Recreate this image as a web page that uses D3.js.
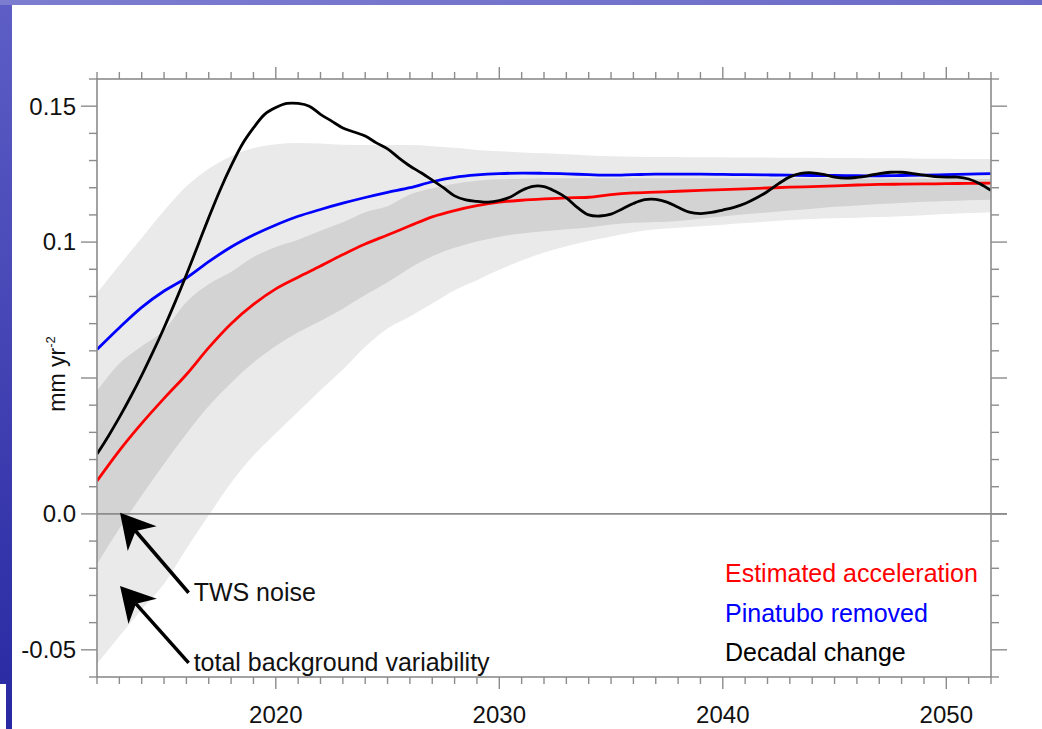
<!DOCTYPE html>
<html lang="en">
<head>
<meta charset="utf-8" />
<title>Acceleration detection</title>
<style>
  body { margin:0; background:#fff; }
  svg  { display:block; font-family:"Liberation Sans", Arial, sans-serif; }
  .frame   { fill:none; stroke:#8c8c8c; stroke-width:1.6px; }
  .tick    { stroke:#8c8c8c; stroke-width:1.4px; }
  .tickLbl { font-size:24px; fill:#111; }
  .note    { font-size:25px; fill:#111; }
  .legend  { font-size:25px; }
</style>
</head>
<body>
<svg width="1042" height="729"></svg>

<script src="https://cdn.jsdelivr.net/npm/d3@7"></script>
<script>
/* ---------- DATA ---------- */
const years = d3.range(2012, 2053);           // yearly grid 2012..2052

// total background variability (light band)
const lightHi = [0.0813,0.0915,0.1015,0.1115,0.1205,0.1270,0.1316,0.1346,0.1360,0.1365,
                 0.1363,0.1358,0.1357,0.1357,0.1357,0.1353,0.1347,0.1339,0.1334,0.1330,
                 0.1327,0.1323,0.1319,0.1316,0.1314,0.1313,0.1313,0.1312,0.1312,0.1311,
                 0.1311,0.1310,0.1310,0.1309,0.1309,0.1308,0.1308,0.1307,0.1307,0.1306,0.1306];
const lightLo = [-0.0551,-0.0450,-0.0352,-0.0257,-0.0128,-0.0005,0.0115,0.0215,0.0297,0.0376,
                 0.0455,0.0531,0.0615,0.0682,0.0726,0.0774,0.0823,0.0860,0.0898,0.0932,
                 0.0962,0.0985,0.1004,0.1021,0.1036,0.1047,0.1053,0.1058,0.1064,0.1070,
                 0.1076,0.1081,0.1085,0.1088,0.1090,0.1092,0.1095,0.1099,0.1103,0.1107,0.1110];

// TWS noise (dark band)
const darkHi  = [0.0452,0.0553,0.0617,0.0676,0.0780,0.0845,0.0890,0.0945,0.0982,0.1009,
                 0.1042,0.1073,0.1110,0.1132,0.1175,0.1198,0.1215,0.1226,0.1231,0.1233,
                 0.1235,0.1235,0.1235,0.1235,0.1235,0.1235,0.1235,0.1235,0.1235,0.1234,
                 0.1234,0.1234,0.1234,0.1234,0.1233,0.1233,0.1233,0.1233,0.1232,0.1232,0.1232];
const darkLo  = [-0.0184,-0.0054,0.0068,0.0184,0.0295,0.0397,0.0482,0.0557,0.0618,0.0668,
                 0.0710,0.0755,0.0805,0.0852,0.0905,0.0948,0.0979,0.1002,0.1020,0.1032,
                 0.1040,0.1047,0.1054,0.1065,0.1071,0.1074,0.1078,0.1086,0.1094,0.1102,
                 0.1109,0.1116,0.1123,0.1130,0.1135,0.1140,0.1144,0.1148,0.1151,0.1154,0.1156];

// Estimated acceleration (red)
const estimated = [0.0121,0.0233,0.0333,0.0425,0.0513,0.0612,0.0700,0.0771,0.0828,0.0871,
                   0.0912,0.0954,0.0993,0.1026,0.1060,0.1093,0.1116,0.1134,0.1147,0.1154,
                   0.1159,0.1163,0.1165,0.1175,0.1181,0.1184,0.1187,0.1190,0.1193,0.1196,
                   0.1199,0.1202,0.1204,0.1207,0.1210,0.1212,0.1213,0.1214,0.1215,0.1216,0.1217];

// Pinatubo removed (blue)
const pinatubo = [0.0605,0.0685,0.0760,0.0820,0.0868,0.0928,0.0982,0.1026,0.1063,0.1095,
                  0.1120,0.1143,0.1164,0.1183,0.1200,0.1222,0.1238,0.1247,0.1252,0.1254,
                  0.1253,0.1251,0.1248,0.1246,0.1248,0.1250,0.1250,0.1250,0.1249,0.1248,
                  0.1247,0.1246,0.1245,0.1245,0.1244,0.1244,0.1245,0.1246,0.1248,0.1250,0.1252];

// Decadal change (black), half-year grid
const decadalYears = d3.range(0, 81).map(i => 2012 + i / 2);
const decadal = [0.0220,0.0285,0.0355,0.0430,0.0510,0.0595,0.0685,0.0780,0.0880,0.0985,
                 0.1090,0.1190,0.1280,0.1360,0.1420,0.1470,0.1495,0.1510,0.1510,0.1500,
                 0.1470,0.1445,0.1420,0.1405,0.1390,0.1365,0.1343,0.1310,0.1280,0.1255,
                 0.1228,0.1200,0.1170,0.1155,0.1150,0.1147,0.1153,0.1166,0.1190,0.1205,
                 0.1204,0.1187,0.1163,0.1127,0.1100,0.1096,0.1103,0.1122,0.1142,0.1156,
                 0.1157,0.1147,0.1128,0.1110,0.1105,0.1109,0.1118,0.1128,0.1142,0.1162,
                 0.1186,0.1215,0.1240,0.1253,0.1255,0.1249,0.1239,0.1235,0.1238,0.1244,
                 0.1252,0.1257,0.1257,0.1252,0.1246,0.1241,0.1239,0.1239,0.1232,0.1215,0.1190];

const seriesNames  = ["Estimated acceleration", "Pinatubo removed", "Decadal change"];
const seriesColors = ["#ff0000", "#0000ff", "#000000"];

const yLabelValues = [0.15, 0.1, 0, -0.05];
const yLabelTexts  = ["0.15", "0.1", "0.0", "-0.05"];
const xLabelValues = [2020, 2030, 2040, 2050];

// annotation arrows: [tipYear, tipVal, tailYear, tailVal, label]
const notes = [
  [2013.03, 0.0004, 2016.1, -0.0290, "TWS noise"],
  [2013.03, -0.0265, 2016.1, -0.0548, "total background variability"]
];

/* ---------- SET-UP ---------- */
const W = 1042, H = 729;
const m = { left:97, right:991, top:79, bottom:677 };
const svg = d3.select("svg");
const defs = svg.append("defs");

// slide border gradients
const gl = defs.append("linearGradient").attr("id","gLeft").attr("x1",0).attr("y1",0).attr("x2",0).attr("y2",1);
gl.append("stop").attr("offset","0%").attr("stop-color","#5e5ec6");
gl.append("stop").attr("offset","100%").attr("stop-color","#2828a2");
const gt = defs.append("linearGradient").attr("id","gTop").attr("x1",0).attr("y1",0).attr("x2",1).attr("y2",0);
gt.append("stop").attr("offset","0%").attr("stop-color","#7c7cd0");
gt.append("stop").attr("offset","100%").attr("stop-color","#6c6cc8");

svg.append("rect").attr("width",W).attr("height",H).attr("fill","#fff");
svg.append("rect").attr("x",0).attr("y",0).attr("width",12).attr("height",H).attr("fill","url(#gLeft)");
svg.append("rect").attr("x",0).attr("y",0).attr("width",W).attr("height",5).attr("fill","url(#gTop)");
svg.append("rect").attr("x",0).attr("y",684).attr("width",6).attr("height",H-684).attr("fill","#fff");

defs.append("clipPath").attr("id","plotClip")
  .append("rect").attr("x",m.left).attr("y",m.top)
  .attr("width",m.right-m.left).attr("height",m.bottom-m.top);

/* ---------- SCALES ---------- */
const x = d3.scaleLinear().domain([2012, 2052]).range([m.left, m.right]);
const y = d3.scaleLinear().domain([-0.06, 0.16]).range([m.bottom, m.top]);

const plot = svg.append("g").attr("clip-path","url(#plotClip)");

// zero line (sits below the bands)
svg.append("line")
  .attr("x1",x(2012)).attr("x2",x(2052)+16)
  .attr("y1",y(0)).attr("y2",y(0))
  .attr("stroke","#8c8c8c").attr("stroke-width",1.6);

/* ---------- BANDS ---------- */
const area = (lo, hi) => d3.area()
  .x((d,i) => x(years[i]))
  .y0((d,i) => y(lo[i]))
  .y1((d,i) => y(hi[i]))
  .curve(d3.curveMonotoneX)(years);

plot.append("path").attr("d", area(lightLo, lightHi)).attr("fill","#eaeaea");
plot.append("path").attr("d", area(darkLo, darkHi)).attr("fill","#d3d3d3");

/* ---------- LINES ---------- */
const line = (xs, ys) => d3.line()
  .x((d,i) => x(xs[i]))
  .y(d => y(d))
  .curve(d3.curveCatmullRom)(ys);

[[years, estimated], [years, pinatubo], [decadalYears, decadal]].forEach(([xs, ys], k) => {
  plot.append("path")
    .attr("d", line(xs, ys))
    .attr("fill","none")
    .attr("stroke", seriesColors[k])
    .attr("stroke-width", 2.8)
    .attr("stroke-linejoin","round");
});

/* ---------- FRAME & TICKS ---------- */
svg.append("rect").attr("class","frame")
  .attr("x",m.left).attr("y",m.top)
  .attr("width",m.right-m.left).attr("height",m.bottom-m.top);

const yTicks = d3.range(-6, 17).map(i => ({ v:i/100, major:i%5===0 }));
const xTicks = years.map(v => ({ v, major:v%10===0 }));

const ticks = svg.append("g");
yTicks.forEach(t => {
  const len = t.major ? 16 : 8;
  ticks.append("line").attr("class","tick")
    .attr("x1",m.left-len).attr("x2",m.left).attr("y1",y(t.v)).attr("y2",y(t.v));
  ticks.append("line").attr("class","tick")
    .attr("x1",m.right).attr("x2",m.right+len).attr("y1",y(t.v)).attr("y2",y(t.v));
});
xTicks.forEach(t => {
  const len = t.major ? 12 : 7;
  ticks.append("line").attr("class","tick")
    .attr("x1",x(t.v)).attr("x2",x(t.v)).attr("y1",m.top-len).attr("y2",m.top);
  ticks.append("line").attr("class","tick")
    .attr("x1",x(t.v)).attr("x2",x(t.v)).attr("y1",m.bottom).attr("y2",m.bottom+len);
});

// tick labels
svg.append("g").selectAll("text")
  .data(yLabelValues)
  .join("text").attr("class","tickLbl")
  .attr("x",76).attr("y",d => y(d)).attr("dy","0.35em")
  .attr("text-anchor","end")
  .text((d,i) => yLabelTexts[i]);

svg.append("g").selectAll("text")
  .data(xLabelValues)
  .join("text").attr("class","tickLbl")
  .attr("x",d => x(d)).attr("y",723)
  .attr("text-anchor","middle")
  .text(d => d);

// y title
const yt = svg.append("text")
  .attr("transform","translate(65,374) rotate(-90)")
  .attr("text-anchor","middle")
  .attr("font-size",23).attr("fill","#111");
yt.append("tspan").text("mm yr");
yt.append("tspan").attr("font-size",13).attr("dy",-10).text("-2");

/* ---------- ANNOTATIONS ---------- */
notes.forEach(([tx, tv, sx, sv, label]) => {
  const x1 = x(sx), y1 = y(sv), x2 = x(tx), y2 = y(tv);
  const a = Math.atan2(y2 - y1, x2 - x1);
  const ux = Math.cos(a), uy = Math.sin(a), px = -uy, py = ux;
  const headLen = 34, half = 19, notch = 24;
  const bx = x2 - ux*notch, by = y2 - uy*notch;
  svg.append("line")
    .attr("x1",x1).attr("y1",y1).attr("x2",bx + ux*2).attr("y2",by + uy*2)
    .attr("stroke","#000").attr("stroke-width",3.5);
  const pts = [
    [x2, y2],
    [x2 - ux*headLen + px*half, y2 - uy*headLen + py*half],
    [bx, by],
    [x2 - ux*headLen - px*half, y2 - uy*headLen - py*half]
  ];
  svg.append("path").attr("d","M" + pts.join("L") + "Z").attr("fill","#000");
  svg.append("text").attr("class","note")
    .attr("x", x1 + 5).attr("y", y1 + 8)
    .text(label);
});

/* ---------- LEGEND ---------- */
svg.append("g").selectAll("text")
  .data(seriesNames)
  .join("text").attr("class","legend")
  .attr("x",725).attr("y",(d,i) => 582 + i*39.5)
  .attr("fill",(d,i) => seriesColors[i])
  .text(d => d);
</script>
</body>
</html>
